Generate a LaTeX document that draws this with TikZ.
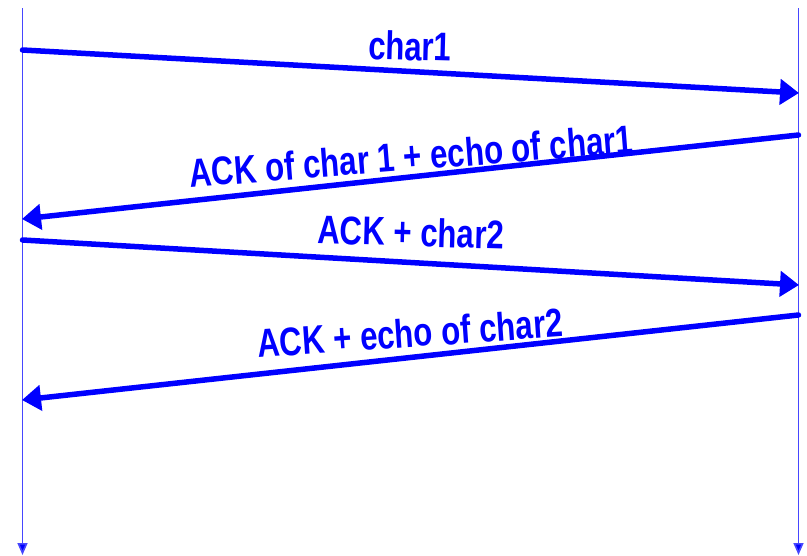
\documentclass[tikz,border=0pt]{standalone}
\usepackage{fontspec}
\setmainfont{Liberation Sans}[FakeStretch=0.78]
\usetikzlibrary{arrows.meta}
\definecolor{msgblue}{RGB}{0,0,255}
\definecolor{lifeblue}{RGB}{70,70,255}
\begin{document}
\begin{tikzpicture}[x=1pt,y=-1pt,
  lifeline/.style={draw=lifeblue,line width=1.6pt,-{Triangle[length=12pt,width=10pt,fill=msgblue]}},
  msg/.style={draw=msgblue,line width=5.5pt,line cap=round,-{Triangle[length=19pt,width=25pt]}},
  lbl/.style={text=msgblue,font=\bfseries\fontsize{40}{40}\selectfont,inner sep=0pt}]
\useasboundingbox (0,0) rectangle (807,555);
% lifelines
\coordinate (Ltop) at (22.5,8);
\coordinate (Lbot) at (22.5,555);
\coordinate (Rtop) at (798.5,8);
\coordinate (Rbot) at (798.5,555);
\draw[lifeline] (Ltop) -- (Lbot);
\draw[lifeline] (Rtop) -- (Rbot);
% message end points
\coordinate (m1s) at (22.5,50);
\coordinate (m1e) at (799,93);
\coordinate (m2s) at (798.5,135);
\coordinate (m2e) at (22,219);
\coordinate (m3s) at (22.5,240);
\coordinate (m3e) at (799,285);
\coordinate (m4s) at (798.5,315);
\coordinate (m4e) at (22,400);
\draw[msg] (m1s) -- (m1e);
\draw[msg] (m2s) -- (m2e);
\draw[msg] (m3s) -- (m3e);
\draw[msg] (m4s) -- (m4e);
% labels
\node[lbl,rotate=-1.5] (l1) at (410,46) {char1};
\node[lbl,rotate=4.5] (l2) at (411,156) {ACK of char 1 + echo of char1};
\node[lbl,rotate=-1.6] (l3) at (411,232) {ACK + char2};
\node[lbl,rotate=4] (l4) at (410,333) {ACK + echo of char2};
\end{tikzpicture}
\end{document}
